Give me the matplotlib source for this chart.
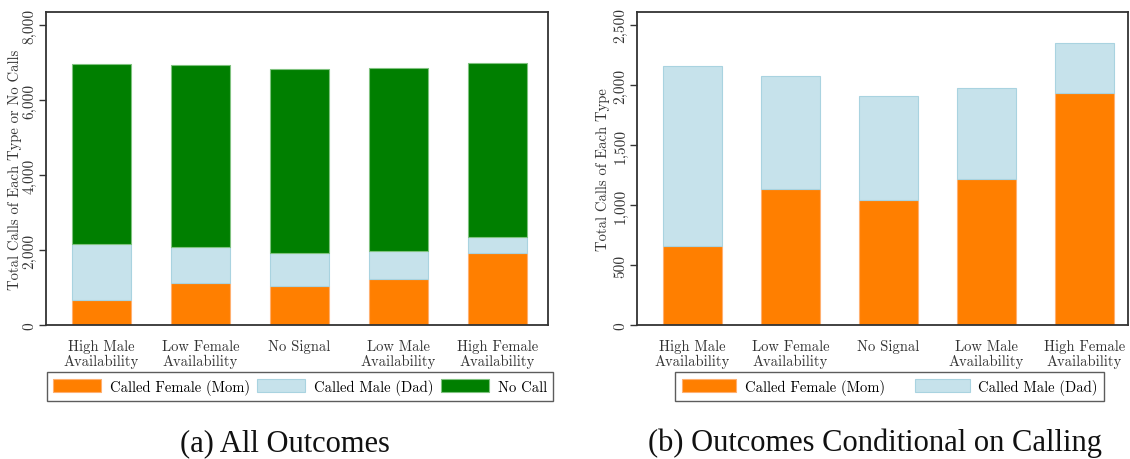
import matplotlib
matplotlib.use("Agg")
import matplotlib.pyplot as plt
import numpy as np

categories = [
    "High Male\nAvailability",
    "Low Female\nAvailability",
    "No Signal",
    "Low Male\nAvailability",
    "High Female\nAvailability",
]

# calls to the mother / father and total outcomes
called_female = [660, 1133, 1042, 1217, 1933]
called_male = [1500, 942, 866, 758, 417]
total_outcomes = [6960, 6933, 6827, 6867, 7000]
no_call = [t - f - m for t, f, m in zip(total_outcomes, called_female, called_male)]

ticks_a = [0, 2000, 4000, 6000, 8000]
ticks_b = [0, 500, 1000, 1500, 2000, 2500]

orange = "#ff7f00"
orange_edge = "#ffb070"
blue = "#c6e2eb"
blue_edge = "#a9d3e0"
green = "#007f00"
green_edge = "#7fc27f"

tick_font = "cmr10"

plt.rcParams["axes.formatter.use_mathtext"] = True

fig = plt.figure(figsize=(11.3, 4.6), dpi=100)
ax_a = fig.add_axes([0.0407, 0.2913, 0.4443, 0.6804])
ax_b = fig.add_axes([0.5637, 0.2913, 0.4343, 0.6804])

x = np.arange(len(categories))
width = 0.6


def style_axes(ax, ticks, ylim, ylabel, xlim, label_x):
    ax.set_xlim(*xlim)
    ax.set_ylim(*ylim)
    ax.set_yticks(ticks)
    ax.set_yticklabels([f"{t:,}" for t in ticks], rotation=90, va="center",
                       fontsize=11, family=tick_font, color="#333333")
    ax.set_xticks(x)
    ax.set_xticklabels(categories, fontsize=10.5, family=tick_font,
                       color="#333333", linespacing=1.1)
    ax.tick_params(axis="x", length=0, pad=10)
    ax.tick_params(axis="y", length=5, width=1, color="#333333", pad=2)
    ax.set_ylabel(ylabel, fontsize=10.5, family=tick_font, color="#333333")
    ax.yaxis.set_label_coords(label_x, 0.5)
    for s in ax.spines.values():
        s.set_color("#333333")
        s.set_linewidth(1.3)


def add_legend(ax, ncol, anchor_x, handlelength, columnspacing):
    leg = ax.legend(loc="upper center", bbox_to_anchor=(anchor_x, -0.15),
                    ncol=ncol, frameon=True, fancybox=False,
                    handlelength=handlelength, handleheight=1.05,
                    columnspacing=columnspacing, handletextpad=0.6,
                    borderpad=0.45, borderaxespad=0,
                    prop={"family": tick_font, "size": 10.5})
    leg.get_frame().set_edgecolor("#333333")
    leg.get_frame().set_linewidth(1.0)
    return leg


# (a) all outcomes
ax_a.bar(x, called_female, width, color=orange, edgecolor=orange_edge,
         linewidth=0.8, label="Called Female (Mom)")
ax_a.bar(x, called_male, width, bottom=called_female, color=blue,
         edgecolor=blue_edge, linewidth=0.8, label="Called Male (Dad)")
bottom_nc = [f + m for f, m in zip(called_female, called_male)]
ax_a.bar(x, no_call, width, bottom=bottom_nc, color=green,
         edgecolor=green_edge, linewidth=0.8, label="No Call")
style_axes(ax_a, ticks_a, (0, 8350), "Total Calls of Each Type or No Calls",
           (-0.56, 4.51), -0.047)
add_legend(ax_a, 3, 0.506, 3.3, 0.5)

# (b) conditional on calling
ax_b.bar(x, called_female, width, color=orange, edgecolor=orange_edge,
         linewidth=0.8, label="Called Female (Mom)")
ax_b.bar(x, called_male, width, bottom=called_female, color=blue,
         edgecolor=blue_edge, linewidth=0.8, label="Called Male (Dad)")
style_axes(ax_b, ticks_b, (0, 2608), "Total Calls of Each Type",
           (-0.566, 4.44), -0.055)
add_legend(ax_b, 2, 0.515, 3.75, 2.05)

# panel captions
fig.text(0.252, 0.02, "(a) All Outcomes", ha="center", va="baseline",
         fontsize=22, family="Liberation Serif", color="#111111")
fig.text(0.774, 0.02, "(b) Outcomes Conditional on Calling", ha="center",
         va="baseline", fontsize=22, family="Liberation Serif", color="#111111")

fig.savefig("out.png", dpi=100)
